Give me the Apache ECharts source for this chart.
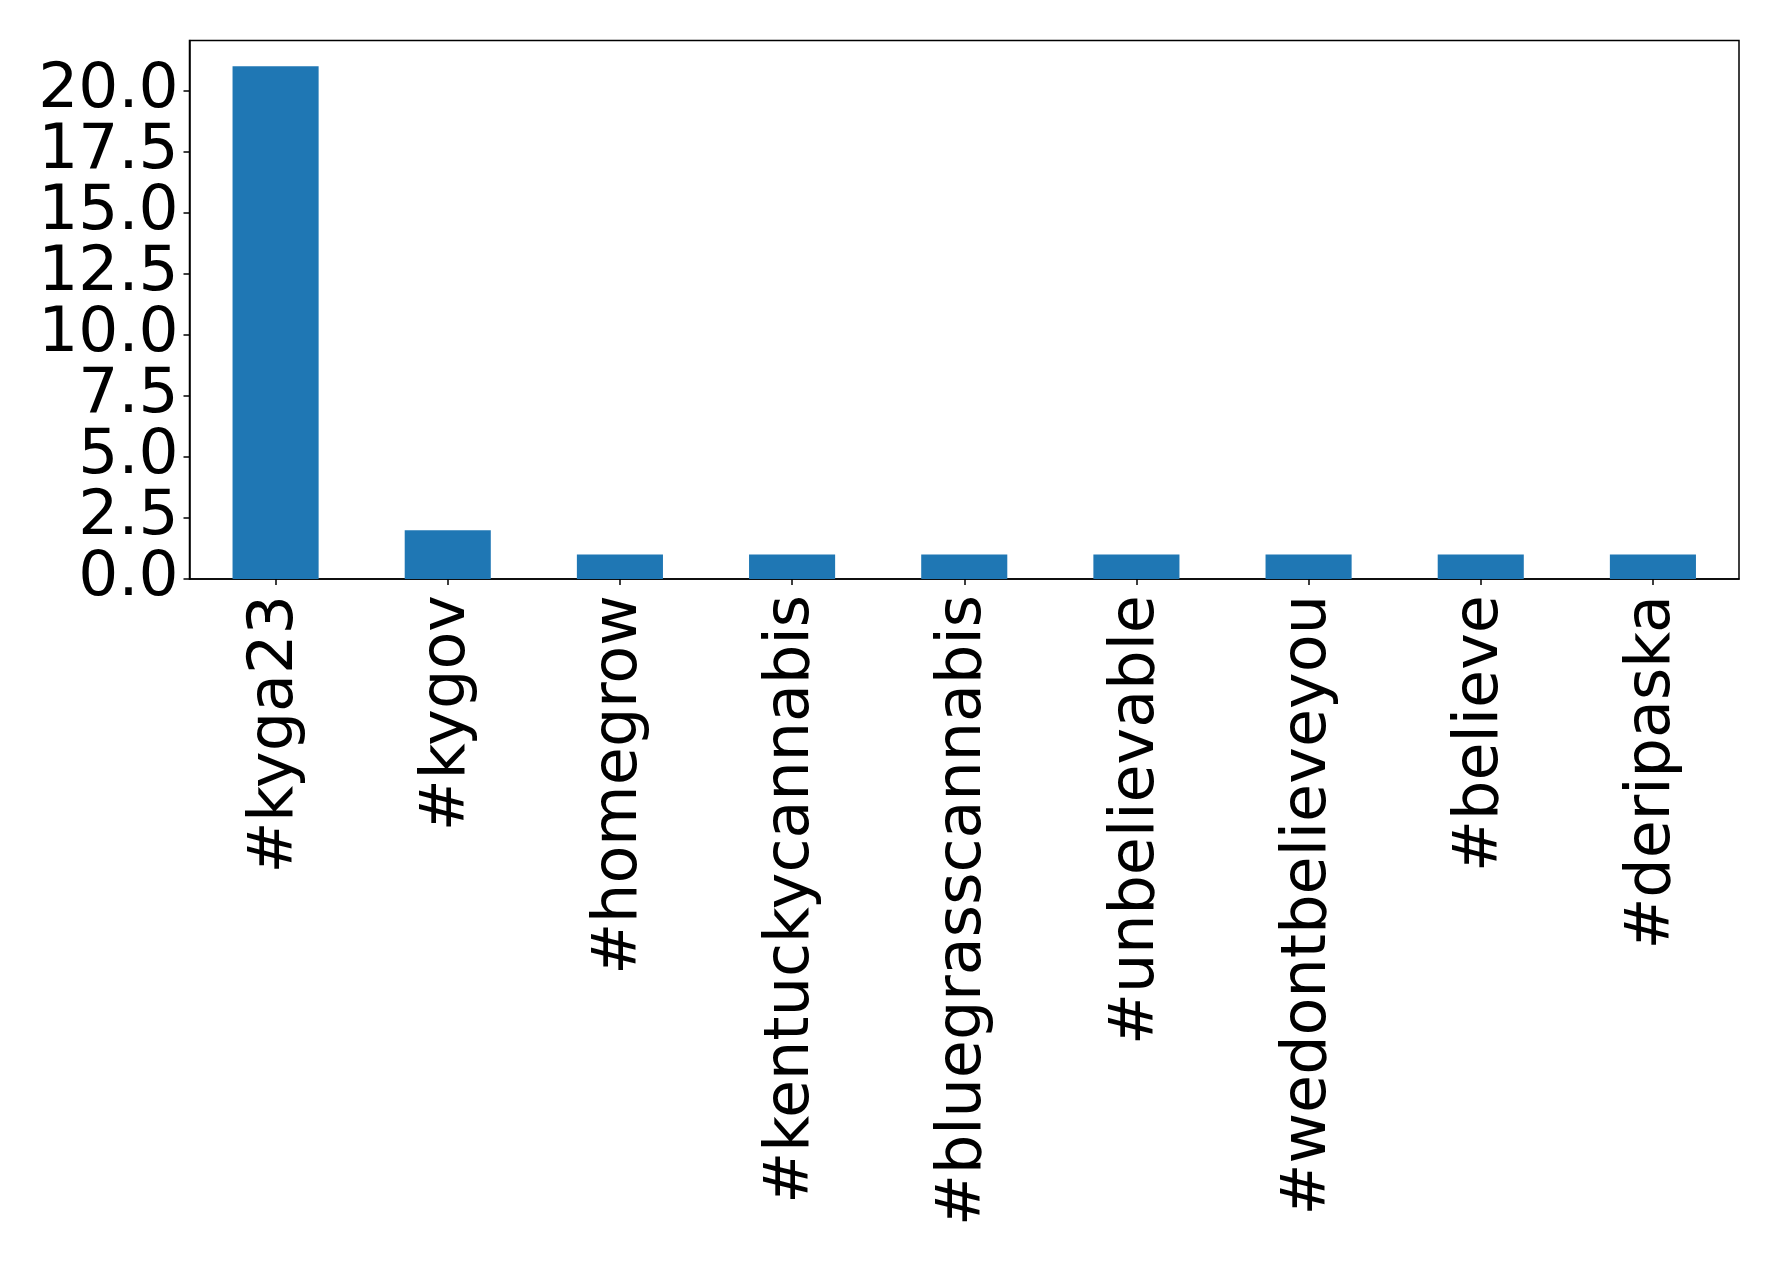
<!DOCTYPE html>
<html><head><meta charset="utf-8">
<script src="https://cdn.jsdelivr.net/npm/echarts@6/dist/echarts.min.js"></script>
<style>html,body{margin:0;padding:0;background:#fff}#c{width:1778px;height:1264px}</style>
</head><body><div id="c"></div>
<script>
const categories = ['#kyga23','#kygov','#homegrow','#kentuckycannabis','#bluegrasscannabis','#unbelievable','#wedontbelieveyou','#believe','#deripaska'];
const counts = [21, 2, 1, 1, 1, 1, 1, 1, 1];
const yTickStep = 2.5;
const yMax = 22.05;

const chart = echarts.init(document.getElementById('c'));
const font = 'DejaVu Sans';
const isEvenStep = v => Math.round(v / yTickStep) % 2 === 0;
const yLabelBase = { fontSize: 63, fontFamily: font, color: '#000', margin: 11, showMinLabel: true, showMaxLabel: false };
chart.setOption({
  animation: false,
  grid: { left: 189.5, right: 39, top: 40.5, bottom: 685, show: true, borderColor: '#000', borderWidth: 1.5, backgroundColor: 'transparent' },
  xAxis: {
    type: 'category', data: categories,
    axisLine: { show: true, lineStyle: { color: '#000', width: 1.5 } },
    axisTick: { show: true, alignWithLabel: true, length: 6, lineStyle: { color: '#000', width: 1.5 } },
    axisLabel: { rotate: 90, interval: 0, fontSize: 62, fontFamily: font, color: '#000', margin: 16 },
    splitLine: { show: false }
  },
  yAxis: [{
    type: 'value', min: 0, max: yMax, interval: yTickStep, position: 'left',
    axisLine: { show: true, lineStyle: { color: '#000', width: 1.5 } },
    axisTick: { show: true, length: 6, lineStyle: { color: '#000', width: 1.5 } },
    axisLabel: Object.assign({}, yLabelBase, { formatter: v => isEvenStep(v) ? v.toFixed(1) : '' }),
    splitLine: { show: false }
  }, {
    type: 'value', min: 0, max: yMax, interval: yTickStep, position: 'left', offset: 0,
    axisLine: { show: false }, axisTick: { show: false },
    axisLabel: Object.assign({}, yLabelBase, { showMinLabel: false, formatter: v => isEvenStep(v) ? '' : v.toFixed(1) }),
    splitLine: { show: false }
  }],
  series: [{ type: 'bar', data: counts, barWidth: '50%', yAxisIndex: 0, itemStyle: { color: '#1f77b4' } }]
});
</script></body></html>
